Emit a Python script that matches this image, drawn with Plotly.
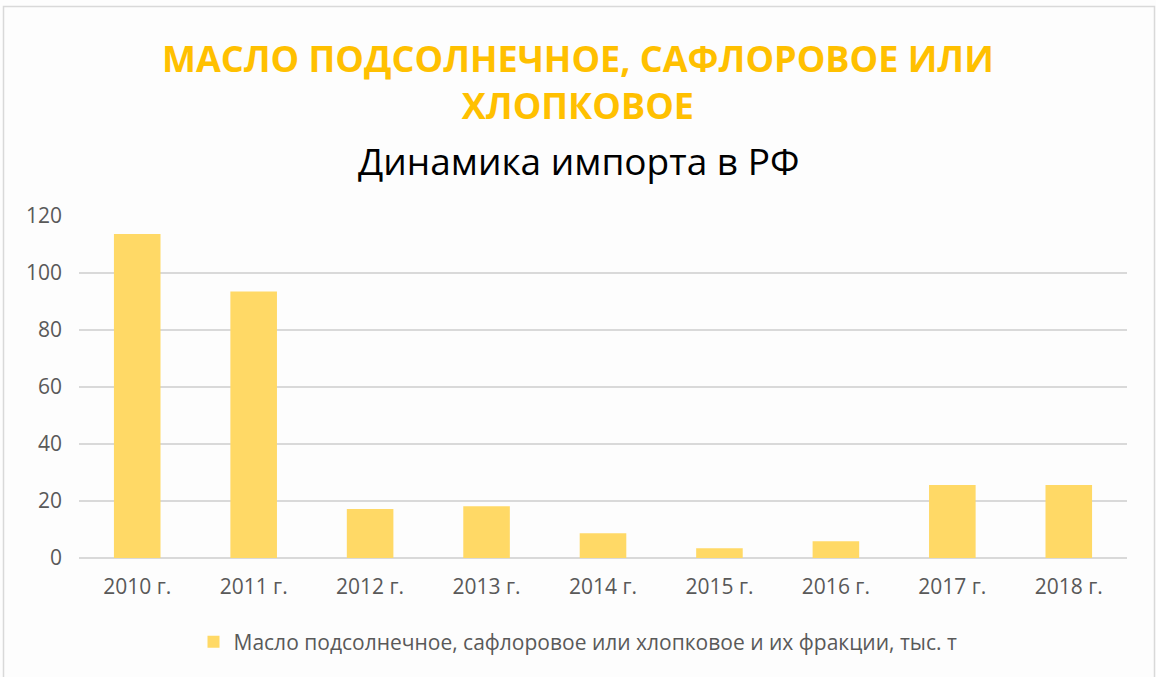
import plotly.graph_objects as go

categories = ["2010 г.", "2011 г.", "2012 г.", "2013 г.", "2014 г.", "2015 г.", "2016 г.", "2017 г.", "2018 г."]
values = [113.7, 93.5, 17.2, 18.2, 8.7, 3.4, 5.9, 25.6, 25.6]
series_name = "Масло подсолнечное, сафлоровое или хлопковое и их фракции, тыс. т"
title_main = "МАСЛО ПОДСОЛНЕЧНОЕ, САФЛОРОВОЕ ИЛИ<br>ХЛОПКОВОЕ"
title_sub = "Динамика импорта в РФ"
y_ticks = [0, 20, 40, 60, 80, 100, 120]

W, H = 1156, 677
ml, mr, mt, mb = 79, 29, 216, 119
pw = W - ml - mr
ph = H - mt - mb


def xpaper(px):
    return (px - ml) / pw


def ypaper(py):
    return (H - mb - py) / ph


fig = go.Figure()
fig.add_trace(go.Bar(
    x=categories, y=values, name=series_name,
    marker=dict(color="#FFD966", line=dict(width=0)),
))

fig.update_layout(
    width=W, height=H,
    margin=dict(l=ml, r=mr, t=mt, b=mb),
    paper_bgcolor="#FDFDFD", plot_bgcolor="rgba(0,0,0,0)",
    bargap=0.6,
    font=dict(family="Open Sans", color="#595959", size=21),
    showlegend=True,
    legend=dict(orientation="h", x=xpaper(578), xanchor="center", y=ypaper(642), yanchor="middle",
                font=dict(size=21, color="#595959"), itemwidth=30),
    xaxis=dict(showgrid=False, showline=False, ticks="", ticklabelstandoff=14,
               tickfont=dict(size=21, color="#595959")),
    yaxis=dict(range=[0, 120], tickvals=y_ticks, showgrid=True, gridcolor="#D9D9D9", gridwidth=1.5,
               zeroline=True, zerolinecolor="#D9D9D9", zerolinewidth=1.5,
               ticks="", ticklabelstandoff=16, tickfont=dict(size=21, color="#595959")),
)

fig.add_annotation(text="<b>" + title_main + "</b>", xref="paper", yref="paper",
                   x=xpaper(578), y=ypaper(82), yanchor="middle", xanchor="center",
                   showarrow=False, font=dict(family="Open Sans", size=36, color="#FFC000"))
fig.add_annotation(text=title_sub, xref="paper", yref="paper",
                   x=xpaper(578), y=ypaper(160), yanchor="middle", xanchor="center",
                   showarrow=False, font=dict(family="Open Sans", size=37, color="#000000"))

fig.add_shape(type="rect", xref="paper", yref="paper",
              x0=xpaper(3.5), x1=xpaper(1154.5),
              y0=ypaper(680), y1=ypaper(6.5),
              line=dict(color="#D9D9D9", width=1.5), fillcolor="rgba(0,0,0,0)", layer="below")

fig.write_html("out.html", config={"displayModeBar": False},
               post_script="document.body.style.margin='0';")
